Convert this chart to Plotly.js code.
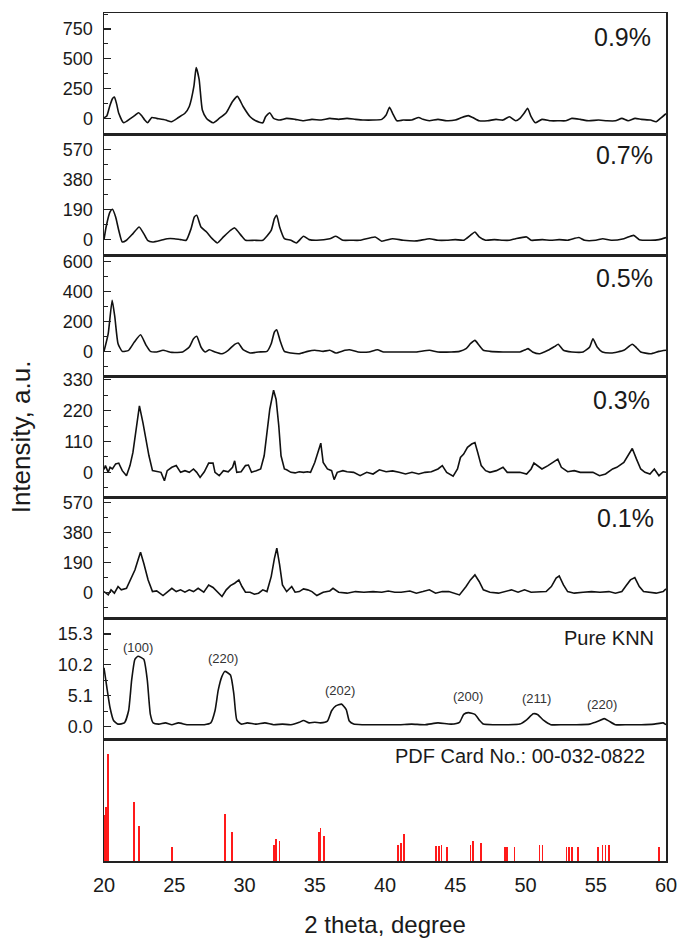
<!DOCTYPE html>
<html>
<head>
<meta charset="utf-8">
<script src="https://cdn.plot.ly/plotly-3.0.1.min.js"></script>
<style>
  html, body { margin: 0; padding: 0; background: #ffffff; }
  #chart { width: 678px; height: 938px; }
</style>
</head>
<body>
<div id="chart"></div>
<script>
// ---------- DATA ----------
const panelLabels = ["0.9%", "0.7%", "0.5%", "0.3%", "0.1%", "Pure KNN", "PDF Card No.: 00-032-0822"];

// 0.9 %
const x09 = [20.0, 20.2, 20.4, 20.6, 20.74, 20.9, 21.05, 21.4, 21.9, 22.2,
  22.46, 22.7, 22.9, 23.1, 23.4, 23.75, 24.4, 24.8, 25.3, 25.76,
  26.07, 26.4, 26.56, 26.77, 27.0, 27.3, 27.76, 28.2, 28.7, 29.15,
  29.5, 29.9, 30.4, 30.8, 31.3, 31.5, 31.8, 32.07, 32.5, 33.0,
  33.6, 34.2, 34.8, 35.46, 36.07, 36.7, 37.3, 37.9, 38.5, 39.15,
  39.77, 40.08, 40.32, 40.54, 40.85, 41.3, 41.9, 42.4, 42.7, 43.16,
  43.77, 44.39, 45.0, 45.47, 45.93, 46.24, 46.7, 47.3, 47.9, 48.4,
  48.85, 49.3, 49.6, 49.9, 50.15, 50.4, 50.7, 51.17, 51.8, 52.4,
  52.86, 53.3, 53.9, 54.5, 55.2, 55.8, 56.4, 56.86, 57.3, 57.8,
  58.25, 58.9, 59.3, 59.6, 60.0];
const y09 = [5, 20, 100, 165, 179, 120, 43, -37, 0, 25,
  48, 20, -14, -37, 8, 0, -14, -28, 8, 43,
  100, 270, 426, 327, 71, 0, -37, 0, 48, 142,
  185, 100, 14, -20, -37, 14, 48, 0, -14, 0,
  -8, -20, -8, -14, 0, -8, 0, -8, -14, -14,
  -8, 28, 94, 43, -20, -14, -14, 8, -8, -20,
  -8, -20, -14, 8, 23, 8, -20, -20, -8, -14,
  14, -20, 0, 43, 85, 14, -37, -8, -20, -20,
  -20, 0, -8, -20, -14, -20, -20, 0, -20, 0,
  -8, -14, -28, 0, 40];

// 0.7 %
const x07 = [20.0, 20.15, 20.43, 20.6, 20.83, 21.05, 21.3, 21.6, 22.06, 22.5,
  22.83, 23.1, 23.45, 24.06, 24.5, 25.0, 25.45, 25.85, 26.2, 26.43,
  26.6, 26.9, 27.3, 27.7, 28.07, 28.5, 29.0, 29.3, 29.76, 30.07,
  30.7, 31.3, 31.9, 32.13, 32.29, 32.5, 32.84, 33.3, 33.7, 34.2,
  34.6, 35.15, 36.07, 36.5, 37.0, 37.6, 38.2, 39.3, 39.77, 40.54,
  41.3, 42.23, 43.16, 43.77, 44.4, 45.0, 45.6, 46.08, 46.4, 46.7,
  47.16, 47.78, 48.4, 48.85, 49.3, 50.08, 50.4, 51.2, 51.8, 52.4,
  53.0, 53.8, 54.2, 55.0, 55.5, 56.1, 57.0, 57.7, 58.1, 58.9,
  59.5, 60.0];
const y07 = [0, 80, 175, 192, 143, 59, -15, -4, 38, 80,
  38, -4, -15, -4, 6, 6, 0, -4, 70, 143,
  154, 80, 48, 6, -21, 17, 59, 74, 27, -4,
  -4, -4, 59, 133, 154, 80, 6, -4, -21, 21,
  0, -4, 6, 21, -4, -4, -4, 17, -10, 6,
  -4, -8, 6, -4, -4, 0, -4, 27, 48, 17,
  -4, 0, -4, -4, 6, 17, -4, 0, -4, 0,
  -4, 13, -4, -4, 6, -4, 6, 27, 0, -4,
  0, 13];

// 0.5 %
const x05 = [20.0, 20.3, 20.58, 20.77, 21.0, 21.3, 21.75, 22.16, 22.6, 23.0,
  23.3, 23.75, 24.2, 24.83, 25.6, 26.07, 26.37, 26.6, 26.9, 27.2,
  27.5, 27.9, 28.4, 28.84, 29.3, 29.55, 29.9, 30.4, 31.0, 31.6,
  31.9, 32.13, 32.29, 32.53, 32.84, 33.3, 33.9, 34.5, 35.0, 35.6,
  36.07, 36.5, 37.15, 37.46, 38.08, 38.85, 39.46, 39.9, 40.7, 41.46,
  42.23, 43.16, 43.77, 44.7, 45.3, 45.77, 46.08, 46.4, 46.7, 47.0,
  47.47, 48.4, 49.16, 49.6, 50.0, 50.18, 50.5, 51.0, 51.6, 52.08,
  52.33, 52.7, 53.3, 54.1, 54.57, 54.8, 55.1, 55.47, 56.1, 56.55,
  57.0, 57.6, 57.9, 58.2, 58.9, 59.5, 60.0];
const y05 = [0, 118, 340, 229, 51, 0, 7, 62, 111, 40,
  0, -4, 7, -7, -4, 29, 84, 100, 29, -4,
  11, -4, -16, 7, 47, 56, 11, -11, -4, 0,
  51, 129, 144, 73, 0, -11, -16, 0, 7, 0,
  7, -11, 7, 11, -4, -4, 11, -4, -4, -4,
  -4, 7, -4, -4, 0, 18, 51, 73, 40, 7,
  0, -4, -4, -4, 11, 18, -4, -16, 7, 33,
  47, 7, -4, -4, 29, 84, 29, -4, -11, -4,
  7, 47, 24, -4, -16, 0, 7];

// 0.3 %
const x03 = [20.0, 20.1, 20.3, 20.43, 20.6, 20.83, 21.05, 21.3, 21.6, 21.85,
  22.06, 22.28, 22.52, 22.77, 23.0, 23.2, 23.45, 23.75, 24.06, 24.3,
  24.5, 24.83, 25.14, 25.45, 25.76, 26.07, 26.37, 26.6, 26.84, 27.14,
  27.45, 27.76, 27.9, 28.2, 28.5, 28.84, 29.15, 29.3, 29.45, 29.76,
  30.07, 30.28, 30.5, 30.84, 31.15, 31.4, 31.6, 31.8, 32.07, 32.25,
  32.44, 32.6, 32.84, 33.0, 33.3, 33.6, 33.9, 34.2, 34.47, 34.7,
  35.0, 35.24, 35.43, 35.6, 35.9, 36.2, 36.38, 36.6, 37.0, 37.3,
  37.77, 38.23, 38.7, 39.15, 39.6, 40.08, 40.54, 41.0, 41.46, 41.92,
  42.4, 42.85, 43.3, 43.77, 44.08, 44.39, 44.85, 45.16, 45.37, 45.6,
  45.87, 46.17, 46.4, 46.6, 46.85, 47.16, 47.47, 47.93, 48.4, 48.7,
  49.16, 49.6, 50.08, 50.4, 50.6, 50.85, 51.17, 51.6, 52.08, 52.3,
  52.55, 53.0, 53.47, 53.9, 54.36, 54.8, 55.27, 55.7, 56.2, 56.5,
  57.0, 57.38, 57.6, 57.9, 58.2, 58.5, 58.86, 59.17, 59.5, 59.8,
  60.0];
const y03 = [10, 24, 0, 18, 12, 30, 33, 6, -12, 24,
  71, 142, 237, 177, 106, 59, 6, 2, 0, -30,
  6, 18, 24, 0, 6, 0, 12, 0, -18, 2,
  33, 33, 0, -12, 6, 2, 18, 41, 0, 2,
  24, 26, 0, 6, 12, 59, 154, 225, 293, 260,
  166, 59, 12, 9, 0, -2, 2, 0, 2, 0,
  35, 71, 104, 35, 12, 6, -26, 0, 6, 2,
  0, -12, 0, -6, 9, 2, 5, 0, -6, 0,
  -6, 0, 2, 12, 24, 0, -14, 12, 53, 65,
  89, 101, 106, 71, 24, 6, 0, 6, 18, 0,
  0, 0, -6, 12, 33, 24, 12, 24, 38, 47,
  18, 2, 6, 0, 0, 0, -12, -6, 12, 18,
  35, 65, 85, 47, 12, 0, -6, 12, -12, 2,
  0];

// 0.1 %
const x01 = [20.0, 20.3, 20.5, 20.74, 21.0, 21.23, 21.6, 21.9, 22.2, 22.46,
  22.6, 22.83, 23.14, 23.45, 23.75, 24.2, 24.5, 24.83, 25.14, 25.45,
  25.76, 26.07, 26.37, 26.7, 27.1, 27.45, 27.76, 28.07, 28.4, 28.7,
  29.0, 29.3, 29.6, 29.82, 30.07, 30.4, 30.7, 31.0, 31.3, 31.6,
  31.9, 32.13, 32.3, 32.5, 32.7, 33.0, 33.36, 33.6, 33.9, 34.2,
  34.5, 34.8, 35.15, 35.6, 36.07, 36.3, 36.7, 37.3, 37.9, 38.5,
  39.15, 39.77, 40.23, 40.7, 41.15, 41.77, 42.23, 42.7, 43.16, 43.6,
  44.08, 44.54, 45.0, 45.3, 45.77, 46.08, 46.4, 46.7, 47.0, 47.47,
  48.08, 48.55, 49.0, 49.47, 49.93, 50.4, 51.0, 51.47, 51.84, 52.18,
  52.4, 52.7, 53.0, 53.47, 54.1, 54.7, 55.3, 55.94, 56.4, 56.86,
  57.17, 57.47, 57.78, 58.1, 58.4, 58.86, 59.3, 59.8, 60.0];
const y01 = [4, -17, 15, -6, 36, 15, 25, 89, 141, 215,
  253, 184, 78, 4, 8, -21, 4, 25, 4, 15,
  0, 15, 4, 25, 0, 46, 30, 4, -27, 15,
  42, 57, 78, 36, 0, 0, -13, -6, 15, 4,
  99, 215, 279, 173, 46, 4, 36, 0, 4, 21,
  15, 4, -21, 0, 8, 25, 0, -6, 4, 0,
  4, 0, 8, 0, 0, 8, -6, 4, 15, -6,
  4, 4, -6, -17, 36, 78, 110, 68, 15, 0,
  -6, 4, 15, 0, 15, 0, 0, 4, 36, 89,
  103, 46, 4, -6, 0, 4, 0, 4, -6, 4,
  42, 78, 93, 36, 4, 0, -6, 4, 21];

// Pure KNN
const xKNN = [20.0, 20.2, 20.43, 20.68, 21.0, 21.45, 21.75, 21.97, 22.2, 22.42,
  22.83, 23.08, 23.3, 23.5, 23.9, 24.37, 24.83, 25.3, 25.9, 26.5,
  27.14, 27.6, 27.9, 28.13, 28.38, 28.6, 29.0, 29.24, 29.45, 29.76,
  30.2, 30.84, 31.45, 32.07, 32.7, 33.3, 33.9, 34.2, 34.6, 35.0,
  35.4, 35.9, 36.2, 36.5, 36.9, 37.24, 37.46, 37.77, 38.4, 39.15,
  40.08, 41.0, 41.9, 42.85, 43.77, 44.7, 45.3, 45.6, 45.93, 46.4,
  46.7, 47.0, 47.78, 48.7, 49.6, 50.08, 50.55, 50.85, 51.3, 51.8,
  52.7, 53.6, 54.57, 55.2, 55.6, 55.94, 56.4, 57.3, 58.25, 59.17,
  59.8, 60.0];
const yKNN = [9.7, 6.5, 3.1, 1.0, 0.4, 0.6, 2.6, 7.7, 11.1, 11.6,
  11.1, 7.7, 2.0, 0.6, 0.4, 0.6, 0.3, 0.6, 0.3, 0.3,
  0.3, 0.6, 2.6, 6.0, 8.2, 9.1, 8.5, 5.4, 1.1, 0.4,
  0.6, 0.4, 0.6, 0.3, 0.4, 0.3, 0.7, 1.0, 0.6, 0.7,
  0.6, 0.9, 2.6, 3.4, 3.7, 2.8, 0.9, 0.4, 0.3, 0.3,
  0.3, 0.3, 0.4, 0.3, 0.6, 0.4, 0.7, 2.0, 2.3, 2.0,
  1.1, 0.4, 0.3, 0.3, 0.4, 1.1, 2.1, 2.0, 1.0, 0.3,
  0.3, 0.3, 0.4, 0.9, 1.3, 0.9, 0.3, 0.3, 0.3, 0.4,
  0.6, 0.3];

// Miller indices on the Pure KNN pattern
const hklText = ["(100)", "(220)", "(202)", "(200)", "(211)", "(220)"];
const hklX = [22.42, 28.47, 36.8, 45.93, 50.8, 55.47];
const hklY = [13.0, 11.3, 5.9, 5.0, 4.7, 3.6];

// PDF card 00-032-0822 reference lines (relative intensity)
const pdfX = [20.02, 20.12, 20.28, 22.12, 22.48, 24.85, 28.6, 29.1, 32.1, 32.22,
  32.5, 35.3, 35.42, 35.65, 40.91, 41.15, 41.37, 43.62, 43.83, 44.02,
  44.39, 46.08, 46.24, 46.85, 48.55, 48.70, 49.22, 51.00, 51.22, 52.92,
  53.10, 53.32, 53.72, 55.17, 55.47, 55.69, 55.94, 59.48];
const pdfI = [43, 51, 100, 55, 33, 13, 44, 27, 15, 21,
  19, 27, 31, 23, 15, 17, 25, 14, 14, 15,
  13, 15, 19, 17, 13, 13, 13, 15, 15, 13,
  13, 13, 13, 13, 15, 15, 15, 13];

// Axis tick labels
const xTicks = [20, 25, 30, 35, 40, 45, 50, 55, 60];
const yTicks = [
  [0, 250, 500, 750],
  [0, 190, 380, 570],
  [0, 200, 400, 600],
  [0, 110, 220, 330],
  [0, 190, 380, 570],
  [0, 5.1, 10.2, 15.3]
];
const yTickText = [
  ["0", "250", "500", "750"],
  ["0", "190", "380", "570"],
  ["0", "200", "400", "600"],
  ["0", "110", "220", "330"],
  ["0", "190", "380", "570"],
  ["0.0", "5.1", "10.2", "15.3"]
];

// ---------- STYLE / LAYOUT ----------
const FONT = 'Arial, "Liberation Sans", Helvetica, sans-serif';
const INK = '#1a1a1a';
const yRanges = [[-132, 884], [-99, 667], [-167, 640], [-90, 342], [-168, 600], [-2.2, 17.8], [0, 113.4]];
const minorStep = [125, 95, 100, 55, 95, 2.55];

const curves = [[x09, y09], [x07, y07], [x05, y05], [x03, y03], [x01, y01], [xKNN, yKNN]];
const traces = curves.map((c, i) => ({
  type: 'scatter', mode: 'lines',
  x: c[0], y: c[1],
  xaxis: 'x', yaxis: i === 0 ? 'y' : 'y' + (i + 1),
  line: { color: '#111111', width: 1.6, shape: (i === 3 || i === 4) ? 'linear' : 'spline', smoothing: 0.5 },
  hoverinfo: 'skip', showlegend: false
}));
traces.push({
  type: 'bar', x: pdfX, y: pdfI, width: 0.12,
  xaxis: 'x', yaxis: 'y7',
  marker: { color: '#ff1a1a', line: { width: 0 } },
  hoverinfo: 'skip', showlegend: false
});

const layout = {
  width: 678, height: 938,
  margin: { l: 104, r: 12, t: 13, b: 77, pad: 0 },
  paper_bgcolor: '#ffffff', plot_bgcolor: '#ffffff',
  font: { family: FONT, color: INK },
  bargap: 0,
  xaxis: {
    domain: [0, 1], range: [20, 60], anchor: 'y7',
    showline: true, mirror: 'all', linecolor: '#222', linewidth: 1.5,
    tickvals: xTicks, ticks: '', ticklabelstandoff: 5,
    tickfont: { size: 20, family: FONT, color: INK },
    showgrid: false, zeroline: false,
    title: { text: '2 theta, degree', font: { size: 24, family: FONT, color: INK }, standoff: 22 }
  },
  annotations: [],
  shapes: []
};

for (let i = 0; i < 7; i++) {
  const key = i === 0 ? 'yaxis' : 'yaxis' + (i + 1);
  const ax = {
    domain: [(6 - i) / 7, (7 - i) / 7],
    range: yRanges[i], anchor: 'x',
    showline: true, mirror: true, linecolor: '#222', linewidth: 1.5,
    showgrid: false, zeroline: false, fixedrange: true
  };
  if (i < 6) {
    Object.assign(ax, {
      tickvals: yTicks[i], ticktext: yTickText[i],
      ticks: 'inside', ticklen: 7, tickwidth: 1.3, tickcolor: '#222',
      ticklabelstandoff: 6,
      tickfont: { size: 18, family: FONT, color: INK },
      minor: { ticks: 'inside', ticklen: 4, tickwidth: 1.1, tickcolor: '#222', dtick: minorStep[i], tick0: 0 }
    });
  } else {
    Object.assign(ax, { showticklabels: false, ticks: '' });
  }
  if (i === 3) {
    ax.title = { text: 'Intensity, a.u.', font: { size: 26, family: FONT, color: INK }, standoff: 25 };
  }
  layout[key] = ax;
}

// panel labels (pixel positions: centre y, right edge)
const labelY = [37, 155, 278, 400, 518, 638, 756];
const labelRight = [653, 655, 655, 652, 656, 656, 647];
const labelSize = [25, 25, 25, 25, 25, 20, 20];
const plotTop = 13, plotH = 848, plotL = 104, plotW = 562;
panelLabels.forEach((t, i) => {
  layout.annotations.push({
    text: t, xref: 'paper', yref: 'paper',
    x: (labelRight[i] - plotL) / plotW, y: 1 - (labelY[i] - plotTop) / plotH,
    xanchor: 'right', yanchor: 'middle', showarrow: false,
    font: { size: labelSize[i], family: FONT, color: INK }
  });
});
hklText.forEach((t, i) => {
  layout.annotations.push({
    text: t, xref: 'x', yref: 'y6', x: hklX[i], y: hklY[i],
    xanchor: 'center', yanchor: 'middle', showarrow: false,
    font: { size: 13, family: FONT, color: '#333' }
  });
});

Plotly.newPlot('chart', traces, layout, { displayModeBar: false, staticPlot: true });
</script>
</body>
</html>
